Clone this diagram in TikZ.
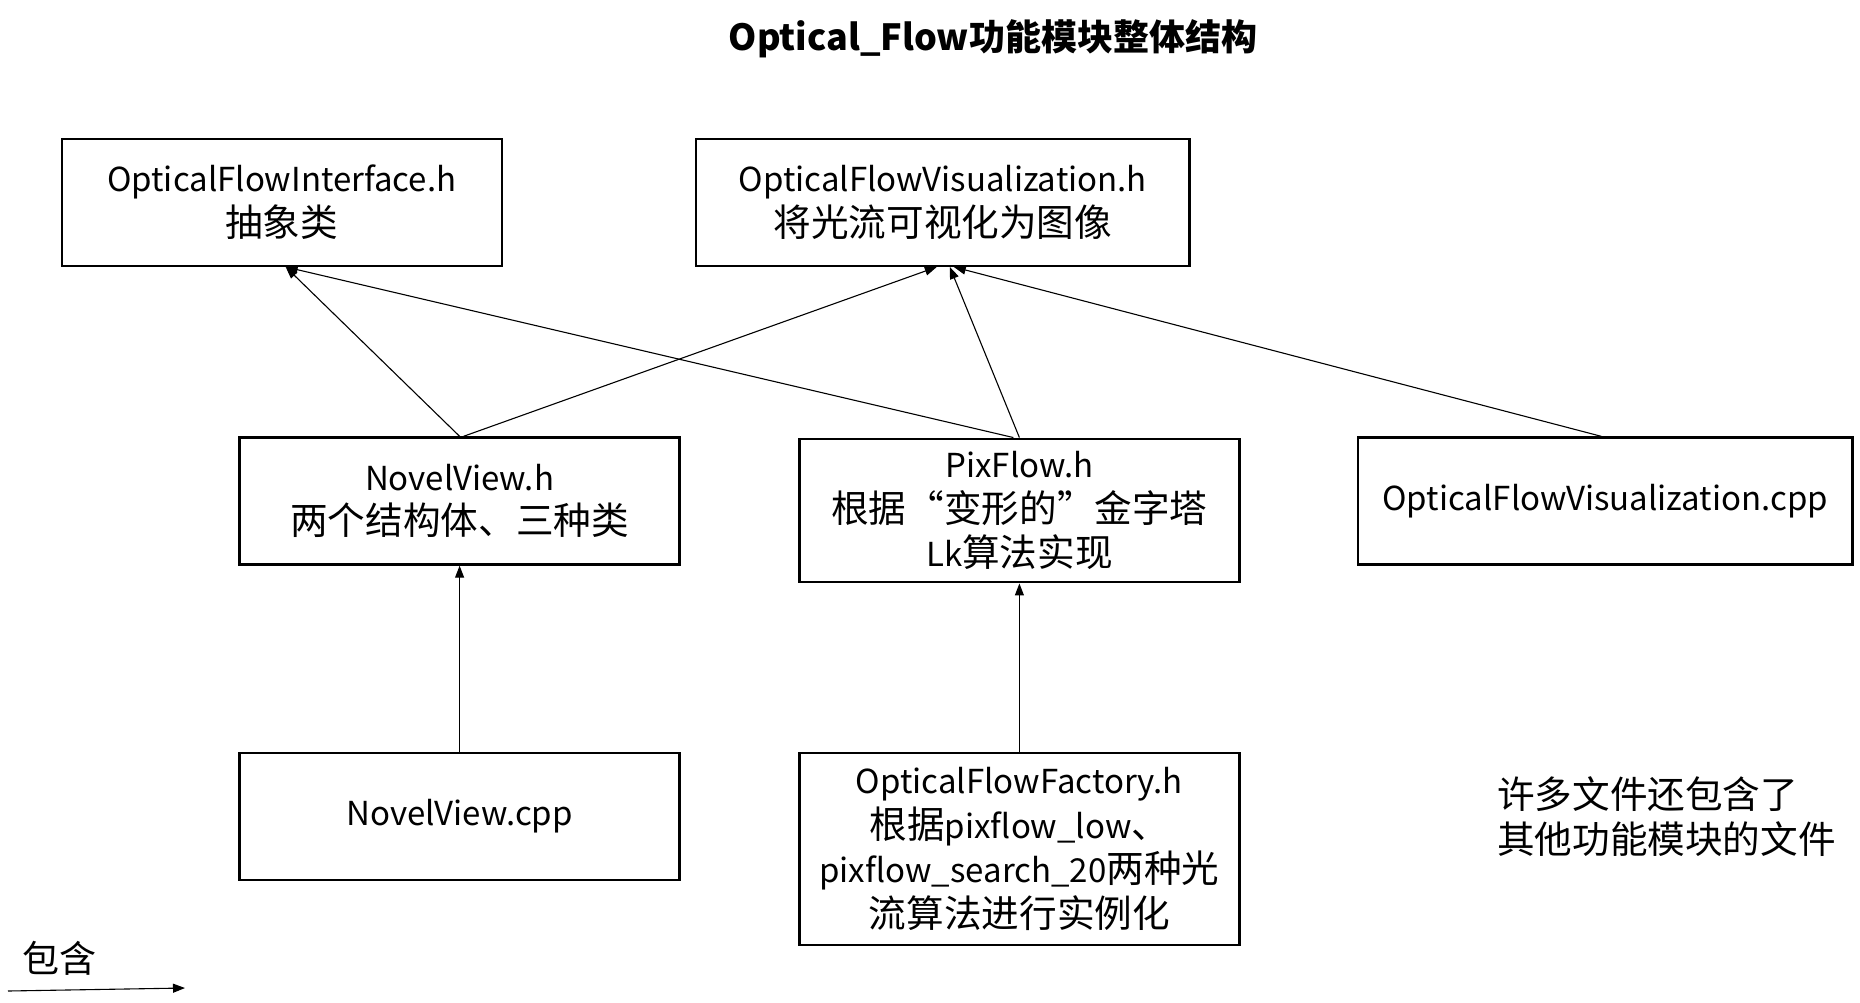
\documentclass[tikz,border=0pt]{standalone}
\usepackage{fontspec}
\setmainfont{Noto Sans CJK SC}
\newfontfamily\zh{Noto Sans CJK SC}[Scale=1.14]
\usetikzlibrary{arrows.meta}
\begin{document}
\begin{tikzpicture}[x=1pt,y=-1pt,
  filebox/.style={draw,line width=2.4pt,inner sep=0pt,align=center,font=\fontsize{33}{44.5}\selectfont},
  incl/.style={line width=1.1pt,-{Triangle[length=12pt,width=9pt]}}]
\useasboundingbox (0,0) rectangle (1860,1002);
\node[font=\fontsize{36}{40}\selectfont\bfseries] (title) at (993,39) {Optical\_Flow功能模块整体结构};
\node[filebox,minimum width=440pt,minimum height=127pt] (A) at (281.7,202.25) {OpticalFlowInterface.h\\{\zh 抽象类}};
\node[filebox,minimum width=493.6pt,minimum height=127pt] (B) at (942.8,202.25) {OpticalFlowVisualization.h\\{\zh 将光流可视化为图像}};
\node[filebox,minimum width=440pt,minimum height=127pt] (C) at (459.6,501) {NovelView.h\\{\zh 两个结构体、三种类}};
\node[filebox,minimum width=440pt,minimum height=143.5pt] (D) at (1019.4,510.5) {PixFlow.h\\{\zh 根据“变形的”金字塔}\\Lk{\zh 算法实现}};
\node[filebox,minimum width=494.5pt,minimum height=127pt] (E) at (1605.2,501) {OpticalFlowVisualization.cpp};
\node[filebox,minimum width=440pt,minimum height=127pt] (F) at (459.6,816.5) {NovelView.cpp};
\node[filebox,minimum width=440pt,minimum height=192pt] (G) at (1019.4,849) {OpticalFlowFactory.h\\{\zh 根据}pixflow\_low{\zh 、}\\pixflow\_search\_20{\zh 两种光}\\{\zh 流算法进行实例化}};
\node[anchor=west,align=left,inner sep=0pt,font=\fontsize{33}{45}\selectfont\zh] (note) at (1497,817) {许多文件还包含了\\其他功能模块的文件};
\node[font=\fontsize{37}{40}\selectfont,inner sep=0pt] (legend) at (60,958) {包含};
\coordinate (l1) at (8,991);
\coordinate (l2) at (185,988);
\draw[incl] (l1) -- (l2);
\draw[incl] (C.north) -- ([xshift=4pt]A.south);
\draw[incl] ([xshift=4pt]C.north) -- ([xshift=-6pt]B.south);
\draw[incl] ([xshift=-6pt]D.north) -- ([xshift=4pt]A.south);
\draw[incl] (D.north) -- ([xshift=7pt]B.south);
\draw[incl] ([xshift=-4pt]E.north) -- ([xshift=11pt]B.south);
\draw[incl] (F.north) -- (C.south);
\draw[incl] (G.north) -- (D.south);
\end{tikzpicture}
\end{document}
